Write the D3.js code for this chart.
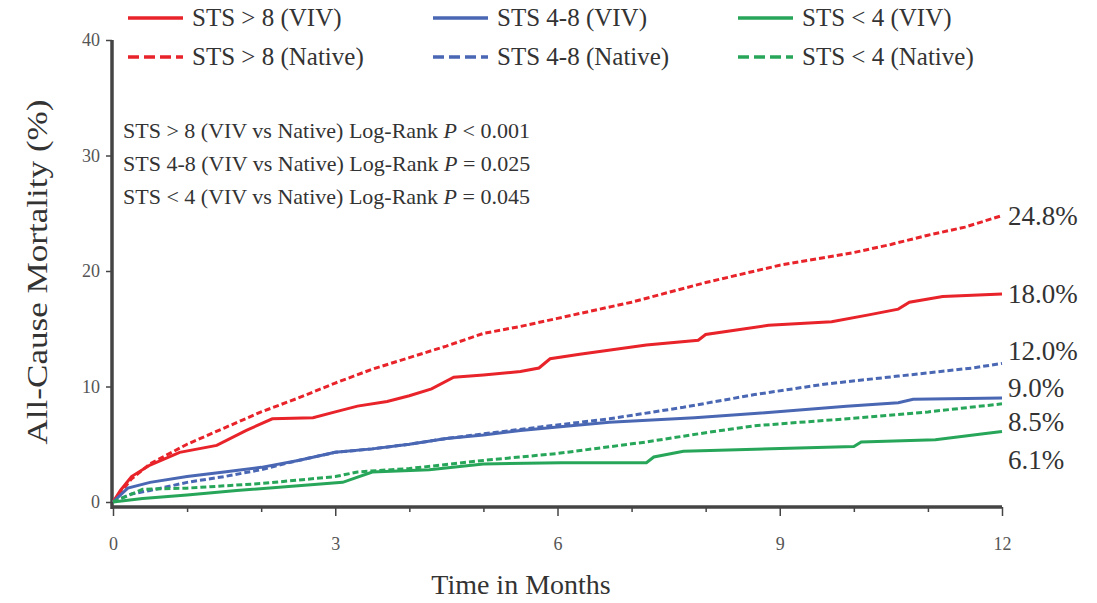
<!DOCTYPE html>
<html>
<head>
<meta charset="utf-8">
<style>
body { margin: 0; background: #fff; }
svg text { font-family: "Liberation Serif", "Times New Roman", serif; fill: #333; }
.axis path, .axis line { stroke: #444; }
</style>
</head>
<body>
<script src="https://d3js.org/d3.v7.min.js"></script>
<script>
// cumulative mortality (%) by month
var stsHighViv = [[0,0],[0.1,1.0],[0.25,2.2],[0.5,3.2],[0.9,4.3],[1.4,4.9],[1.8,6.2],[2.15,7.2],[2.7,7.3],[3,7.8],[3.3,8.3],[3.7,8.7],[4,9.2],[4.3,9.8],[4.6,10.8],[5,11.0],[5.5,11.3],[5.75,11.6],[5.9,12.4],[6.3,12.8],[7.2,13.6],[7.9,14.0],[8,14.5],[8.85,15.3],[9.7,15.6],[10.2,16.2],[10.6,16.7],[10.75,17.3],[11.2,17.8],[12,18.0]];
var stsHighNative = [[0,0],[0.25,2.0],[0.5,3.3],[1,5.0],[1.5,6.4],[2,7.8],[2.5,9.0],[3,10.3],[3.5,11.5],[4,12.5],[4.5,13.5],[5,14.6],[5.5,15.2],[6,15.9],[7,17.3],[8,19.0],[9,20.5],[10,21.6],[10.5,22.3],[11,23.1],[11.5,23.8],[12,24.8]];
var stsMidViv = [[0,0],[0.2,1.2],[0.5,1.7],[1,2.2],[1.5,2.6],[2,3.0],[2.5,3.6],[3,4.3],[3.5,4.6],[4,5.0],[4.5,5.5],[5,5.8],[5.5,6.2],[6,6.5],[6.7,6.9],[7.85,7.3],[8.75,7.7],[9.9,8.3],[10.6,8.6],[10.8,8.9],[12,9.0]];
var stsMidNative = [[0,0],[0.25,0.7],[0.5,1.0],[1,1.7],[1.5,2.2],[2,2.8],[2.5,3.6],[3,4.3],[3.5,4.6],[4,5.0],[4.5,5.5],[5,5.9],[5.77,6.5],[6.7,7.2],[7.7,8.2],[8.66,9.3],[9.6,10.2],[10.6,10.9],[11.6,11.6],[12,12.0]];
var stsLowViv = [[0,0],[0.4,0.3],[1,0.6],[1.67,1.0],[2.5,1.4],[3.1,1.7],[3.5,2.6],[4.27,2.8],[5,3.3],[6.05,3.4],[7.2,3.4],[7.3,3.9],[7.7,4.4],[10.0,4.8],[10.1,5.2],[11.1,5.4],[11.75,5.9],[12,6.1]];
var stsLowNative = [[0,0],[0.4,1.1],[1,1.2],[2,1.6],[3,2.2],[3.3,2.6],[4,2.9],[5,3.6],[6,4.2],[7.2,5.2],[8,6.0],[8.66,6.6],[10.1,7.3],[11,7.8],[12,8.5]];

var seriesNames = ["STS > 8 (VIV)", "STS > 8 (Native)", "STS 4-8 (VIV)", "STS 4-8 (Native)", "STS < 4 (VIV)", "STS < 4 (Native)"];
var seriesColors = ["#e8232a", "#e8232a", "#4a67b4", "#4a67b4", "#27a65a", "#27a65a"];
var seriesDashed = [false, true, false, true, false, true];
var seriesData = [stsHighViv, stsHighNative, stsMidViv, stsMidNative, stsLowViv, stsLowNative];
var endLabels = ["18.0%", "24.8%", "9.0%", "12.0%", "6.1%", "8.5%"];
var endLabelY = [18.0, 24.8, 9.9, 13.1, 3.6, 6.9];

var pValues = [
  ["STS > 8 (VIV vs Native) Log-Rank ", "P", " < 0.001"],
  ["STS 4-8 (VIV vs Native) Log-Rank ", "P", " = 0.025"],
  ["STS < 4 (VIV vs Native) Log-Rank ", "P", " = 0.045"]
];

var xTicks = [0, 3, 6, 9, 12];
var yTicks = [0, 10, 20, 30, 40];
var serif = '"Liberation Serif", "Times New Roman", serif';

var width = 1097, height = 603;
var svg = d3.select("body").append("svg")
  .attr("width", width)
  .attr("height", height);

var x = d3.scaleLinear().domain([0, 12]).range([113, 1002]);
var y = d3.scaleLinear().domain([0, 40]).range([502, 40]);

// axes
var xAxis = svg.append("g").attr("class", "axis")
  .attr("transform", "translate(0,507)")
  .call(d3.axisBottom(x).tickValues(d3.range(0, 13)).tickSize(5).tickFormat(function(d) { return xTicks.indexOf(d) >= 0 ? d : ""; }));
xAxis.select(".domain").attr("stroke-width", 3.5).attr("d", "M" + (x(0) - 2) + ",0H" + x(12));
xAxis.selectAll(".tick line").attr("stroke-width", 1.5)
  .attr("y2", function(d) { return xTicks.indexOf(d) >= 0 ? 9 : 5; });
xAxis.selectAll(".tick text").attr("y", 30).attr("dy", "0.71em");

var yAxis = svg.append("g").attr("class", "axis")
  .attr("transform", "translate(112,0)")
  .call(d3.axisLeft(y).tickValues(yTicks).tickSize(6));
yAxis.select(".domain").attr("stroke-width", 3.5).attr("d", "M0," + y(40) + "V509");
yAxis.selectAll(".tick line").attr("stroke-width", 1.5);
yAxis.selectAll(".tick text").attr("x", -12);

svg.selectAll(".axis text")
  .style("font-family", serif)
  .style("font-size", "18px")
  .style("fill", "#555");

svg.append("text")
  .attr("transform", "translate(47,272) rotate(-90)")
  .attr("text-anchor", "middle")
  .attr("textLength", 345)
  .attr("lengthAdjust", "spacingAndGlyphs")
  .style("font-size", "30px")
  .text("All-Cause Mortality (%)");

svg.append("text")
  .attr("x", 521).attr("y", 594)
  .attr("text-anchor", "middle")
  .style("font-size", "28px")
  .text("Time in Months");

// curves
var line = d3.line()
  .x(function(d) { return x(d[0]); })
  .y(function(d) { return y(d[1]); });

svg.selectAll(".curve")
  .data(seriesData)
  .enter()
  .append("path")
  .attr("class", "curve")
  .attr("fill", "none")
  .attr("stroke", function(d, i) { return seriesColors[i]; })
  .attr("stroke-width", 3)
  .attr("stroke-dasharray", function(d, i) { return seriesDashed[i] ? "6,3" : null; })
  .attr("d", line);

// end-of-curve labels
svg.selectAll(".endlabel")
  .data(endLabels)
  .enter()
  .append("text")
  .attr("class", "endlabel")
  .attr("x", 1008)
  .attr("y", function(d, i) { return y(endLabelY[i]) + 9; })
  .style("font-size", "27px")
  .text(function(d) { return d; });

// legend
var legendX = [128, 433, 738];
var legendY = [18, 57];
var legend = svg.selectAll(".legend")
  .data(seriesNames)
  .enter()
  .append("g")
  .attr("class", "legend")
  .attr("transform", function(d, i) { return "translate(" + legendX[Math.floor(i / 2)] + "," + legendY[i % 2] + ")"; });
legend.append("line")
  .attr("x1", 0).attr("x2", 55)
  .attr("stroke", function(d, i) { return seriesColors[i]; })
  .attr("stroke-width", 3.5)
  .attr("stroke-dasharray", function(d, i) { return seriesDashed[i] ? "11,5" : null; });
legend.append("text")
  .attr("x", 64).attr("y", 8)
  .style("font-family", serif)
  .style("font-size", "25px")
  .text(function(d) { return d; });

// log-rank p values
var pText = svg.selectAll(".ptext")
  .data(pValues)
  .enter()
  .append("text")
  .attr("class", "ptext")
  .attr("x", 123)
  .attr("y", function(d, i) { return 138 + i * 33; })
  .style("font-family", serif)
  .style("font-size", "22px");
pText.append("tspan").text(function(d) { return d[0]; });
pText.append("tspan").style("font-style", "italic").text(function(d) { return d[1]; });
pText.append("tspan").text(function(d) { return d[2]; });
</script>
</body>
</html>
